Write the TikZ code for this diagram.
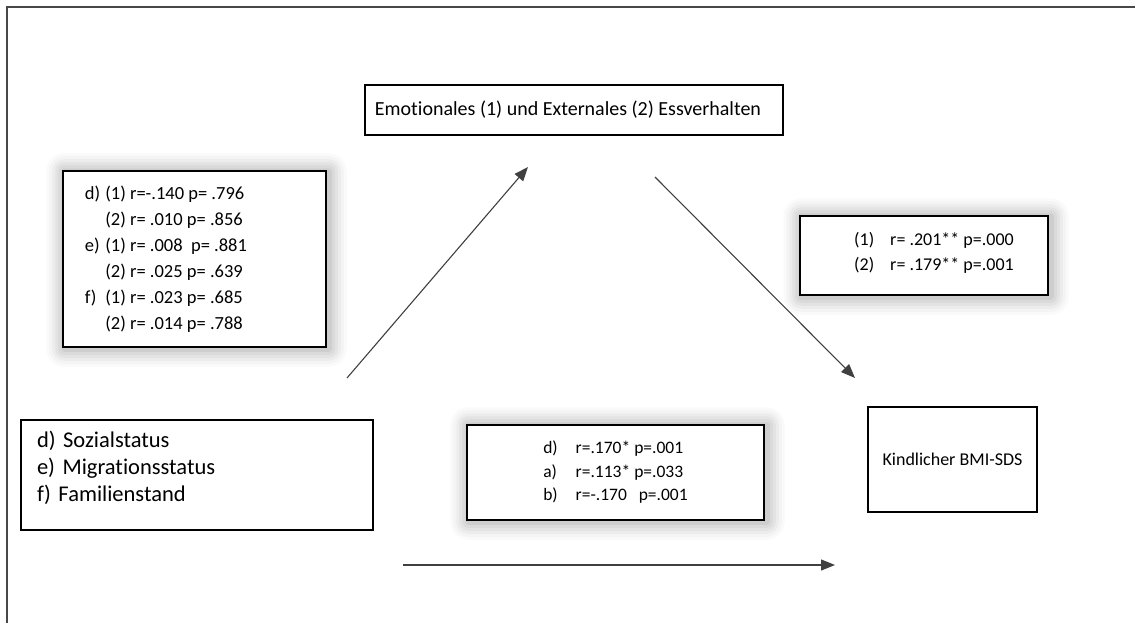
\documentclass[tikz,border=0pt]{standalone}
\usepackage{fontspec}
\setmainfont{Carlito}[Ligatures=NoCommon]
\usetikzlibrary{arrows.meta,backgrounds,calc}

\tikzset{
  box/.style={draw=black, line width=1.5pt, fill=white, inner sep=0pt},
  link/.style={draw=black!75, line width=1.1pt, -{Triangle[length=14pt,width=11pt]}},
  frameline/.style={draw=black!72, line width=1.6pt},
  stats/.style={box, font=\fontsize{18.5}{26}\selectfont},
}

% soft grey halo behind a box
\newcommand\haloaround[1]{%
  \begin{scope}[on background layer]
    \foreach \d/\o in {18/0.02,15/0.025,12/0.03,9/0.035,6/0.04,3/0.05}{
      \fill[black, opacity=\o, rounded corners=\d pt]
        ($(#1.south west)+(-\d pt+2pt,-\d pt-1pt)$) rectangle ($(#1.north east)+(\d pt+2pt,\d pt-1pt)$);
    }
  \end{scope}}

\begin{document}
\begin{tikzpicture}[x=1pt, y=-1pt]
  \useasboundingbox (0,0) rectangle (1135,623);
  \begin{scope}[on background layer]
    \fill[white] (0,0) rectangle (1135,623);
  \end{scope}

  % page frame (top and left edges)
  \draw[frameline] (1135,7) -- (7,7) -- (7,623);

  % variables
  \node[box, minimum width=418pt, minimum height=50pt, font=\fontsize{20}{24}\selectfont]
    (eat) at (574,110) {\hspace*{-12pt}Emotionales (1) und Externales (2) Essverhalten};

  \node[box, text width=352pt, inner xsep=0pt, minimum height=110pt, align=left,
        font=\fontsize{22.5}{27}\selectfont]
    (pred) at (197,475) {%
    \begin{tabular}{@{\hspace*{16pt}}l@{}}
      d) Sozialstatus\\
      e) Migrationsstatus\\
      f) Familienstand\\[12pt]
    \end{tabular}};

  \node[box, minimum width=169pt, minimum height=105pt, font=\fontsize{18}{22}\selectfont]
    (bmi) at (952.5,459.5) {Kindlicher BMI-SDS};

  % correlation boxes
  \node[stats, minimum width=263pt, minimum height=176pt]
    (sa) at (194.5,259) {%
    \begin{tabular}{@{\hspace*{18pt}}l@{\hspace{5pt}}l@{\hspace*{75pt}}}
      d) & (1) r=-.140 p= .796\\
         & (2) r= .010 p= .856\\
      e) & (1) r= .008\ \ p= .881\\
         & (2) r= .025 p= .639\\
      f) & (1) r= .023 p= .685\\
         & (2) r= .014 p= .788
    \end{tabular}};

  \node[stats, minimum width=248pt, minimum height=79pt, font=\fontsize{18}{25}\selectfont]
    (sb) at (924,255.5) {%
    \begin{tabular}{@{\hspace*{20pt}}l@{\hspace{16pt}}l@{}}
      (1) & r= .201** p=.000\\
      (2) & r= .179** p=.001\\[5pt]
    \end{tabular}};

  \node[stats, minimum width=297pt, minimum height=95pt, font=\fontsize{17.5}{23.5}\selectfont]
    (sc) at (615.5,472.5) {%
    \begin{tabular}{@{}l@{\hspace{18pt}}l@{}}
      d) & r=.170* p=.001\\
      a) & r=.113* p=.033\\
      b) & r=-.170\ \ \ p=.001
    \end{tabular}};

  \haloaround{sa}
  \haloaround{sb}
  \haloaround{sc}

  % paths between the variables
  \coordinate (a1s) at (347,378);
  \coordinate (a1e) at (528,167);
  \coordinate (a2s) at (655,177);
  \coordinate (a2e) at (855,378);
  \coordinate (a3s) at (403,565);
  \coordinate (a3e) at (835,565);
  \draw[link] (a1s) -- (a1e);
  \draw[link] (a2s) -- (a2e);
  \draw[link] (a3s) -- (a3e);
\end{tikzpicture}
\end{document}
